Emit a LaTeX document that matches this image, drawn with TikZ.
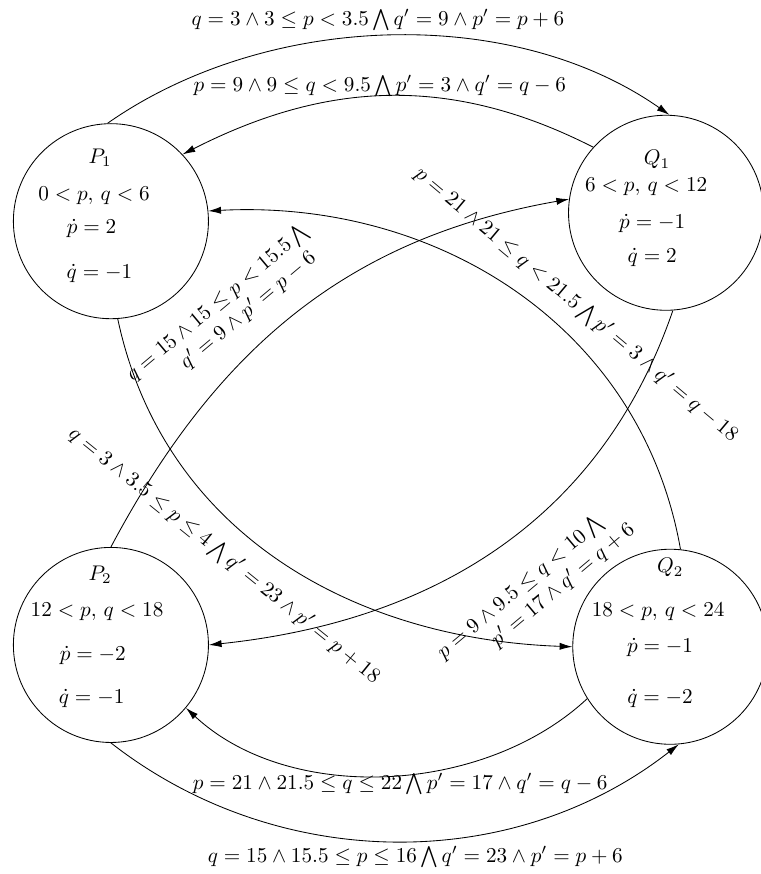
\documentclass[tikz,border=0pt]{standalone}
\usepackage{amsmath,amssymb}
\usepackage{tikz}
\usetikzlibrary{calc,arrows.meta}

\begin{document}
\begin{tikzpicture}[
  state/.style={draw,circle,thin,minimum size=3.236cm,inner sep=0pt},
  trans/.style={thin,-{Latex[length=6pt,width=3.4pt]}},
  guard/.style={inner sep=1pt}
]
  \useasboundingbox (0,0) rectangle (12.625,14.5);
  \node[state] (P1) at (1.84,10.83) {};
  \node[state] (Q1) at (11.05,10.97) {};
  \node[state] (P2) at (1.84,3.80) {};
  \node[state] (Q2) at (11.12,3.77) {};

  \foreach \dx/\dy/\txt [count=\i] in {-0.18/1.05/{$P_1$},-0.28/0.43/{$0 < p,\, q < 6$},-0.32/-0.12/{$\dot p = 2$},-0.19/-0.86/{$\dot q = -1$}}
    \node (P1l\i) at ($(P1)+(\dx,\dy)$) {\txt};
  \foreach \dx/\dy/\txt [count=\i] in {-0.15/0.88/{$Q_1$},-0.33/0.43/{$6 < p,\, q < 12$},-0.23/-0.17/{$\dot p = -1$},-0.23/-0.75/{$\dot q = 2$}}
    \node (Q1l\i) at ($(Q1)+(\dx,\dy)$) {\txt};
  \foreach \dx/\dy/\txt [count=\i] in {-0.18/1.16/{$P_2$},-0.23/0.55/{$12 < p,\, q < 18$},-0.3/-0.17/{$\dot p = -2$},-0.32/-0.88/{$\dot q = -1$}}
    \node (P2l\i) at ($(P2)+(\dx,\dy)$) {\txt};
  \foreach \dx/\dy/\txt [count=\i] in {0/1.31/{$Q_2$},-0.2/0.58/{$18 < p,\, q < 24$},-0.17/-0.02/{$\dot p = -1$},-0.17/-0.85/{$\dot q = -2$}}
    \node (Q2l\i) at ($(Q2)+(\dx,\dy)$) {\txt};

  \draw[trans] (P1.92) to[out=35,in=145,looseness=0.88] (Q1.88);
  \draw[trans] (Q1.138) to[out=153,in=27] (P1.43);
  \draw[trans] (Q2.84) to[out=100,in=3] (P1.6);
  \draw[trans] (P1.-86) to[out=-78,in=178] (Q2.180);
  \draw[trans] (P2.90) to[out=62,in=190] (Q1.172);
  \draw[trans] (Q1.-86) to[out=-109,in=6] (P2.0);
  \draw[trans] (Q2.212) to[out=-137,in=-43,looseness=0.9] (P2.-40);
  \draw[trans] (P2.-90) to[out=-38,in=-142,looseness=0.95] (Q2.-85);

  \node[guard] (g1) at (6.27,14.17) {$q = 3 \wedge 3 \leq p < 3.5 \bigwedge q' = 9 \wedge p' = p + 6$};
  \node[guard] (g2) at (6.30,13.07) {$p = 9 \wedge 9 \leq q < 9.5 \bigwedge p' = 3 \wedge q' = q - 6$};
  \node[guard,rotate=-40] (g3) at (9.56,9.44) {$p = 21 \wedge 21 \leq q < 21.5 \bigwedge p' = 3 \wedge q' = q - 18$};
  \node[guard,rotate=-39] (g4) at (3.72,5.28) {$q = 3 \wedge 3.5 \leq p \leq 4 \bigwedge q' = 23 \wedge p' = p + 18$};
  \node[guard,rotate=40,align=left] (g5) at (3.74,9.31) {$q = 15 \wedge 15 \leq p < 15.5 \bigwedge$\\\hspace*{23pt}$q' = 9 \wedge p' = p - 6$};
  \node[guard,rotate=40,align=left] (g6) at (8.89,4.70) {$p = 9 \wedge 9.5 \leq q < 10 \bigwedge$\\\hspace*{23pt}$p' = 17 \wedge q' = q + 6$};
  \node[guard] (g7) at (6.64,1.49) {$p = 21 \wedge 21.5 \leq q \leq 22 \bigwedge p' = 17 \wedge q' = q - 6$};
  \node[guard] (g8) at (6.89,0.28) {$q = 15 \wedge 15.5 \leq p \leq 16 \bigwedge q' = 23 \wedge p' = p + 6$};
\end{tikzpicture}
\end{document}
